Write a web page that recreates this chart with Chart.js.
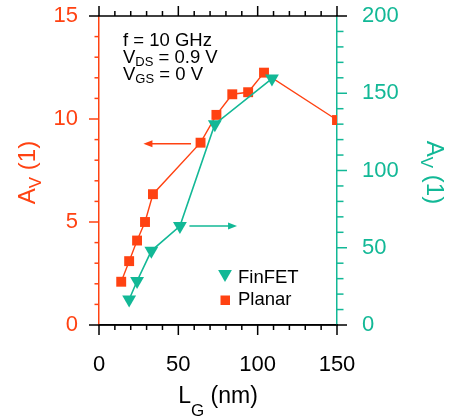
<!DOCTYPE html>
<html>
<head>
<meta charset="utf-8">
<script src="https://cdn.jsdelivr.net/npm/chart.js@4"></script>
<style>
  html, body { margin: 0; padding: 0; background: #fff; }
  #wrap { width: 454px; height: 417px; }
</style>
</head>
<body>
<div id="wrap"><canvas id="lineChart" width="454" height="417"></canvas></div>
<script>
// gate length (nm) and voltage gain A_V
var planarLg = [14, 19, 24, 29, 34, 64, 74, 84, 94, 104, 150];
var planarAv = [2.1, 3.1, 4.1, 5.0, 6.35, 8.85, 10.2, 11.2, 11.3, 12.25, 9.95];
var finfetLg = [19, 24, 33, 51, 73, 109];
var finfetAv = [16.5, 28.5, 48, 64, 130, 159.5];

var xTicks = [0, 50, 100, 150];
var leftTicks = [0, 5, 10, 15];
var rightTicks = [0, 50, 100, 150, 200];

var ORANGE = '#ff4212';
var TEAL = '#12b896';
var FONT = "'Liberation Sans', Arial, sans-serif";

function toPoints(xs, ys) {
  return xs.map(function(x, i) { return { x: x, y: ys[i] }; });
}

// draws "main" + subscript + "rest", left aligned at x
function subText(ctx, x, y, main, sub, rest, size, subSize, drop) {
  ctx.font = size + 'px ' + FONT;
  ctx.fillText(main, x, y);
  x += ctx.measureText(main).width;
  ctx.font = subSize + 'px ' + FONT;
  ctx.fillText(sub, x, y + drop);
  x += ctx.measureText(sub).width;
  ctx.font = size + 'px ' + FONT;
  ctx.fillText(rest, x, y);
}

function subWidth(ctx, main, sub, rest, size, subSize) {
  ctx.font = size + 'px ' + FONT;
  var w = ctx.measureText(main).width + ctx.measureText(rest).width;
  ctx.font = subSize + 'px ' + FONT;
  return w + ctx.measureText(sub).width;
}

function arrow(ctx, x1, x2, y, color) {
  var dir = x2 > x1 ? 1 : -1;
  ctx.strokeStyle = color;
  ctx.fillStyle = color;
  ctx.lineWidth = 1.5;
  ctx.beginPath();
  ctx.moveTo(x1, y);
  ctx.lineTo(x2 - dir * 7, y);
  ctx.stroke();
  ctx.beginPath();
  ctx.moveTo(x2, y);
  ctx.lineTo(x2 - dir * 9, y - 3.5);
  ctx.lineTo(x2 - dir * 9, y + 3.5);
  ctx.closePath();
  ctx.fill();
}

function noPad(s) {
  s.paddingTop = 0; s.paddingBottom = 0;
  s.paddingLeft = 0; s.paddingRight = 0;
}

var decorations = {
  id: 'decorations',
  afterDraw: function(chart) {
    var ctx = chart.ctx;
    var a = chart.chartArea;
    var sx = chart.scales.x, sy = chart.scales.y, sy2 = chart.scales.y2;
    var v;
    ctx.save();
    ctx.lineWidth = 1.5;

    // ticks on x (bottom and top)
    ctx.strokeStyle = '#000';
    for (v = 0; v <= 150; v += 10) {
      var px = sx.getPixelForValue(v);
      var len = v % 50 === 0 ? 10 : 5;
      ctx.beginPath();
      ctx.moveTo(px, a.bottom); ctx.lineTo(px, a.bottom + len);
      ctx.moveTo(px, a.top); ctx.lineTo(px, a.top - len);
      ctx.stroke();
    }
    // left ticks
    ctx.strokeStyle = ORANGE;
    for (v = 1; v < 15; v += 1) {
      var py = sy.getPixelForValue(v);
      ctx.beginPath();
      ctx.moveTo(a.left, py); ctx.lineTo(a.left - (v % 5 === 0 ? 10 : 4.5), py);
      ctx.stroke();
    }
    // right ticks
    ctx.strokeStyle = TEAL;
    for (v = 10; v < 200; v += 10) {
      var py2 = sy2.getPixelForValue(v);
      ctx.beginPath();
      ctx.moveTo(a.right, py2); ctx.lineTo(a.right + (v % 50 === 0 ? 10 : 6.5), py2);
      ctx.stroke();
    }
    // top and bottom frame lines, running past the corners
    ctx.strokeStyle = '#000';
    ctx.beginPath();
    ctx.moveTo(a.left - 10, a.top); ctx.lineTo(a.right + 10, a.top);
    ctx.moveTo(a.left - 10, a.bottom); ctx.lineTo(a.right + 10, a.bottom);
    ctx.stroke();

    // arrows pointing at each axis
    arrow(ctx, sx.getPixelForValue(58), sx.getPixelForValue(28), sy.getPixelForValue(8.8), ORANGE);
    arrow(ctx, sx.getPixelForValue(57), sx.getPixelForValue(87), sy2.getPixelForValue(64), TEAL);

    // axis titles
    ctx.textBaseline = 'alphabetic';
    ctx.fillStyle = '#000';
    var w = subWidth(ctx, 'L', 'G', ' (nm)', 23, 17);
    subText(ctx, (a.left + a.right) / 2 - w / 2, 403, 'L', 'G', ' (nm)', 23, 17, 13);

    ctx.save();
    ctx.fillStyle = ORANGE;
    ctx.translate(35, (a.top + a.bottom) / 2 + 2);
    ctx.rotate(-Math.PI / 2);
    w = subWidth(ctx, 'A', 'V', ' (1)', 24, 17);
    subText(ctx, -w / 2, 0, 'A', 'V', ' (1)', 24, 17, 6);
    ctx.restore();

    ctx.save();
    ctx.fillStyle = TEAL;
    ctx.translate(427, (a.top + a.bottom) / 2 + 2);
    ctx.rotate(Math.PI / 2);
    w = subWidth(ctx, 'A', 'V', ' (1)', 24, 17);
    subText(ctx, -w / 2, 0, 'A', 'V', ' (1)', 24, 17, 6);
    ctx.restore();

    // conditions
    ctx.fillStyle = '#000';
    ctx.font = '18.5px ' + FONT;
    ctx.fillText('f = 10 GHz', 123, 46);
    subText(ctx, 123, 63, 'V', 'DS', ' = 0.9 V', 18.5, 13, 3);
    subText(ctx, 123, 80, 'V', 'GS', ' = 0 V', 18.5, 13, 3);

    // legend
    ctx.fillStyle = TEAL;
    ctx.beginPath();
    ctx.moveTo(225, 282);
    ctx.lineTo(225 - 6.9, 270);
    ctx.lineTo(225 + 6.9, 270);
    ctx.closePath();
    ctx.fill();
    ctx.fillStyle = ORANGE;
    ctx.fillRect(220.5, 295.5, 9.5, 9.5);
    ctx.fillStyle = '#000';
    ctx.font = '18.5px ' + FONT;
    ctx.fillText('FinFET', 238, 283);
    ctx.fillText('Planar', 238, 305);
    ctx.restore();
  }
};
</script>
<script>
var ctx = document.getElementById('lineChart').getContext('2d');

new Chart(ctx, {
  type: 'scatter',
  data: {
    datasets: [{
      label: 'FinFET',
      data: toPoints(finfetLg, finfetAv),
      yAxisID: 'y2',
      showLine: true,
      borderColor: TEAL,
      backgroundColor: TEAL,
      borderWidth: 1.6,
      pointStyle: 'triangle',
      rotation: 180,
      pointRadius: 8,
      pointBorderWidth: 0
    }, {
      label: 'Planar',
      data: toPoints(planarLg, planarAv),
      yAxisID: 'y',
      showLine: true,
      borderColor: ORANGE,
      backgroundColor: ORANGE,
      borderWidth: 1.4,
      pointStyle: 'rect',
      pointRadius: 7,
      pointBorderWidth: 0
    }]
  },
  options: {
    responsive: false,
    animation: false,
    layout: { padding: { top: 16, left: 0, right: 0, bottom: 0 } },
    scales: {
      x: {
        type: 'linear',
        min: 0, max: 150,
        afterBuildTicks: function(s) { s.ticks = xTicks.map(function(v) { return { value: v }; }); },
        afterFit: function(s) { s.height = 92; noPad(s); },
        ticks: { color: '#000', font: { size: 22, family: FONT }, padding: 27, maxRotation: 0 },
        grid: { display: false, drawTicks: false },
        border: { display: true, color: '#000', width: 1.5 }
      },
      y: {
        position: 'left',
        min: 0, max: 15,
        afterBuildTicks: function(s) { s.ticks = leftTicks.map(function(v) { return { value: v }; }); },
        afterFit: function(s) { s.width = 99; noPad(s); },
        ticks: { color: ORANGE, font: { size: 22, family: FONT }, padding: 21 },
        grid: { display: false, drawTicks: false },
        border: { display: true, color: ORANGE, width: 1.5 }
      },
      y2: {
        position: 'right',
        min: 0, max: 200,
        afterBuildTicks: function(s) { s.ticks = rightTicks.map(function(v) { return { value: v }; }); },
        afterFit: function(s) { s.width = 117; noPad(s); },
        ticks: { color: TEAL, font: { size: 22, family: FONT }, padding: 25 },
        grid: { display: false, drawTicks: false },
        border: { display: true, color: TEAL, width: 1.5 }
      }
    },
    plugins: {
      legend: { display: false },
      tooltip: { enabled: false }
    }
  },
  plugins: [decorations]
});
</script>
</body>
</html>
